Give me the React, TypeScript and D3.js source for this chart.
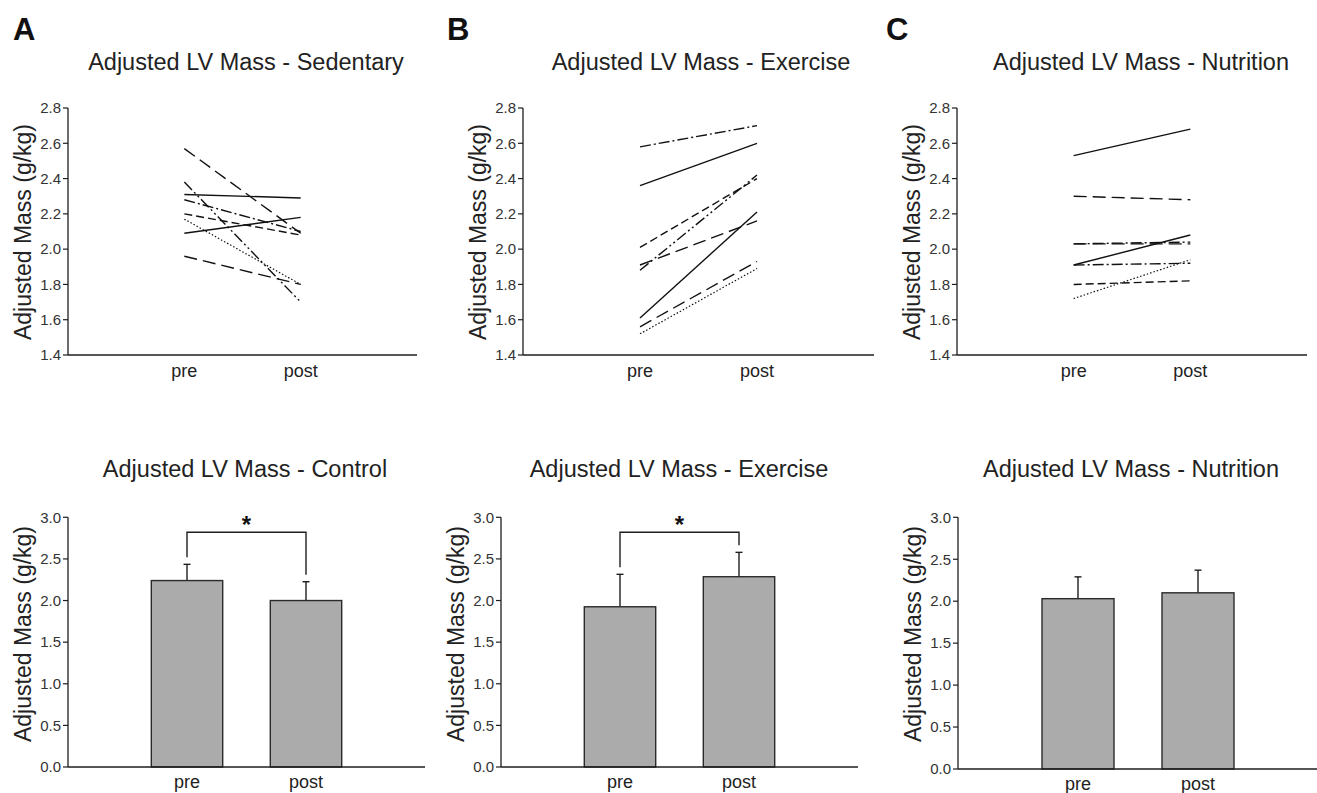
import React from "react";
import * as d3 from "d3";

// ---------- DATA ----------
const timepoints = ["pre", "post"];

const sedentaryPre = [2.57, 2.31, 2.38, 2.28, 2.2, 2.17, 2.09, 1.96];
const sedentaryPost = [2.09, 2.29, 1.7, 2.1, 2.08, 1.8, 2.18, 1.8];

const exercisePre = [2.58, 2.36, 2.01, 1.88, 1.91, 1.61, 1.56, 1.52];
const exercisePost = [2.7, 2.6, 2.4, 2.42, 2.16, 2.21, 1.93, 1.89];

const nutritionPre = [2.53, 2.3, 2.03, 2.03, 1.91, 1.91, 1.8, 1.72];
const nutritionPost = [2.68, 2.28, 2.04, 2.03, 2.08, 1.92, 1.82, 1.94];

const lineTicks = [1.4, 1.6, 1.8, 2.0, 2.2, 2.4, 2.6, 2.8];
const barTicks = [0, 0.5, 1.0, 1.5, 2.0, 2.5, 3.0];

const controlMeans = [2.24, 2.0];
const controlSD = [0.195, 0.226];
const exerciseMeans = [1.925, 2.286];
const exerciseSD = [0.39, 0.293];
const nutritionMeans = [2.03, 2.1];
const nutritionSD = [0.26, 0.27];

const topTitles = [
  "Adjusted LV Mass - Sedentary",
  "Adjusted LV Mass - Exercise",
  "Adjusted LV Mass - Nutrition",
];
const bottomTitles = [
  "Adjusted LV Mass - Control",
  "Adjusted LV Mass - Exercise",
  "Adjusted LV Mass - Nutrition",
];
const panelLetters = ["A", "B", "C"];
const significant = [true, true, false];
const yTitle = "Adjusted Mass (g/kg)";

// ---------- STYLES ----------
const DASH = {
  solid: "none",
  longDash: "13,6",
  dash: "8,4",
  dashDot: "11,3,2,3",
  dashDotDot: "11,3,2,3,2,3",
  dot: "1.5,2",
};
const sedentaryDash = [DASH.longDash, DASH.solid, DASH.dashDotDot, DASH.dashDot, DASH.dash, DASH.dot, DASH.solid, DASH.longDash];
const exerciseDash = [DASH.dashDot, DASH.solid, DASH.dash, DASH.dashDotDot, DASH.longDash, DASH.solid, DASH.longDash, DASH.dot];
const nutritionDash = [DASH.solid, DASH.longDash, DASH.dashDot, DASH.longDash, DASH.solid, DASH.dashDot, DASH.dash, DASH.dot];

const FONT = "'Liberation Sans', Arial, Helvetica, sans-serif";
const INK = "#1e1e1e";

// ---------- LAYOUT ----------
const topLayout = [
  { x0: 68, x1: 417, titleX: 246, letterX: 13 },
  { x0: 523, x1: 874, titleX: 701, letterX: 447 },
  { x0: 957, x1: 1307, titleX: 1141, letterX: 886 },
];
const bottomLayout = [
  { x0: 68, x1: 425, y0: 767, titleX: 245 },
  { x0: 501, x1: 858, y0: 767, titleX: 679 },
  { x0: 958, x1: 1318, y0: 769, titleX: 1131 },
];

const fmt = d3.format(".1f");

function YAxis({ scale, ticks, x }: { scale: any; ticks: number[]; x: number }) {
  const [r0, r1] = scale.range();
  return (
    <g>
      <line x1={x} x2={x} y1={r0} y2={r1} stroke={INK} strokeWidth={1.3} />
      {ticks.map((t) => (
        <g key={t}>
          <line x1={x - 5} x2={x} y1={scale(t)} y2={scale(t)} stroke={INK} strokeWidth={1.2} />
          <text
            x={x - 7}
            y={scale(t)}
            dy="0.35em"
            textAnchor="end"
            fontSize={15}
            fill="#333"
            fontFamily={FONT}
          >
            {fmt(t)}
          </text>
        </g>
      ))}
    </g>
  );
}

function XAxis({ scale, y, labelDy }: { scale: any; y: number; labelDy: number }) {
  const [r0, r1] = scale.range();
  return (
    <g>
      <line x1={r0} x2={r1} y1={y} y2={y} stroke={INK} strokeWidth={1.5} />
      {timepoints.map((t, i) => (
        <text
          key={t}
          x={scale(i + 1)}
          y={y + labelDy}
          textAnchor="middle"
          fontSize={18}
          fill="#222"
          fontFamily={FONT}
        >
          {t}
        </text>
      ))}
    </g>
  );
}

function YTitle({ x, y }: { x: number; y: number }) {
  return (
    <text
      transform={`translate(${x},${y}) rotate(-90)`}
      textAnchor="middle"
      fontSize={23}
      fill="#222"
      fontFamily={FONT}
    >
      {yTitle}
    </text>
  );
}

function LinePanel({ idx, pre, post, dashes }: { idx: number; pre: number[]; post: number[]; dashes: string[] }) {
  const L = topLayout[idx];
  const x = d3.scaleLinear().domain([0, 3]).range([L.x0, L.x1]);
  const y = d3.scaleLinear().domain([1.4, 2.8]).range([355, 108]);
  const line = d3
    .line<[number, number]>()
    .x((d) => x(d[0]))
    .y((d) => y(d[1]));
  return (
    <g>
      <text x={L.letterX} y={40} fontSize={31} fontWeight="bold" fill="#111" fontFamily={FONT}>
        {panelLetters[idx]}
      </text>
      <text x={L.titleX} y={70} textAnchor="middle" fontSize={23.5} fill="#222" fontFamily={FONT}>
        {topTitles[idx]}
      </text>
      {pre.map((v, i) => (
        <path
          key={i}
          d={line([
            [1, v],
            [2, post[i]],
          ]) as string}
          fill="none"
          stroke="#111"
          strokeWidth={dashes[i] === DASH.dot ? 1.2 : 1.4}
          strokeDasharray={dashes[i]}
        />
      ))}
      <YAxis scale={y} ticks={lineTicks} x={L.x0} />
      <XAxis scale={x} y={355} labelDy={22} />
      <YTitle x={L.x0 - 37} y={232} />
    </g>
  );
}

function BarPanel({ idx, means, sds }: { idx: number; means: number[]; sds: number[] }) {
  const L = bottomLayout[idx];
  const x = d3.scaleLinear().domain([0, 3]).range([L.x0, L.x1]);
  const y = d3.scaleLinear().domain([0, 3]).range([L.y0, 517.3]);
  const bw = x(0.6) - x(0);
  const bracketV = 2.82;
  return (
    <g>
      <text x={L.titleX} y={477} textAnchor="middle" fontSize={23.5} fill="#222" fontFamily={FONT}>
        {bottomTitles[idx]}
      </text>
      {means.map((m, i) => {
        const cx = x(i + 1);
        const top = y(m + sds[i]);
        return (
          <g key={i}>
            <line x1={cx} x2={cx} y1={y(m)} y2={top} stroke={INK} strokeWidth={1.4} />
            <line x1={cx - 3.5} x2={cx + 3.5} y1={top} y2={top} stroke={INK} strokeWidth={1.4} />
            <rect
              x={cx - bw / 2}
              y={y(m)}
              width={bw}
              height={y(0) - y(m)}
              fill="#ababab"
              stroke="#2a2a2a"
              strokeWidth={1.4}
            />
          </g>
        );
      })}
      {significant[idx] && (
        <g>
          <path
            d={`M${x(1)},${y(means[0] + sds[0] + 0.085)}V${y(bracketV)}H${x(2)}V${y(means[1] + sds[1] + 0.085)}`}
            fill="none"
            stroke={INK}
            strokeWidth={1.4}
          />
          <text
            x={x(1.5)}
            y={y(bracketV) + 1}
            textAnchor="middle"
            fontSize={24}
            fontWeight="bold"
            fill="#111"
            fontFamily={FONT}
          >
            *
          </text>
        </g>
      )}
      <YAxis scale={y} ticks={barTicks} x={L.x0} />
      <XAxis scale={x} y={L.y0} labelDy={21} />
      <YTitle x={L.x0 - 37} y={634} />
    </g>
  );
}

export default function App() {
  return (
    <svg
      width={1317}
      height={793}
      style={{ position: "absolute", left: 0, top: 0, background: "#fff" }}
    >
      <rect width={1317} height={793} fill="#fff" />
      <LinePanel idx={0} pre={sedentaryPre} post={sedentaryPost} dashes={sedentaryDash} />
      <LinePanel idx={1} pre={exercisePre} post={exercisePost} dashes={exerciseDash} />
      <LinePanel idx={2} pre={nutritionPre} post={nutritionPost} dashes={nutritionDash} />
      <BarPanel idx={0} means={controlMeans} sds={controlSD} />
      <BarPanel idx={1} means={exerciseMeans} sds={exerciseSD} />
      <BarPanel idx={2} means={nutritionMeans} sds={nutritionSD} />
    </svg>
  );
}
